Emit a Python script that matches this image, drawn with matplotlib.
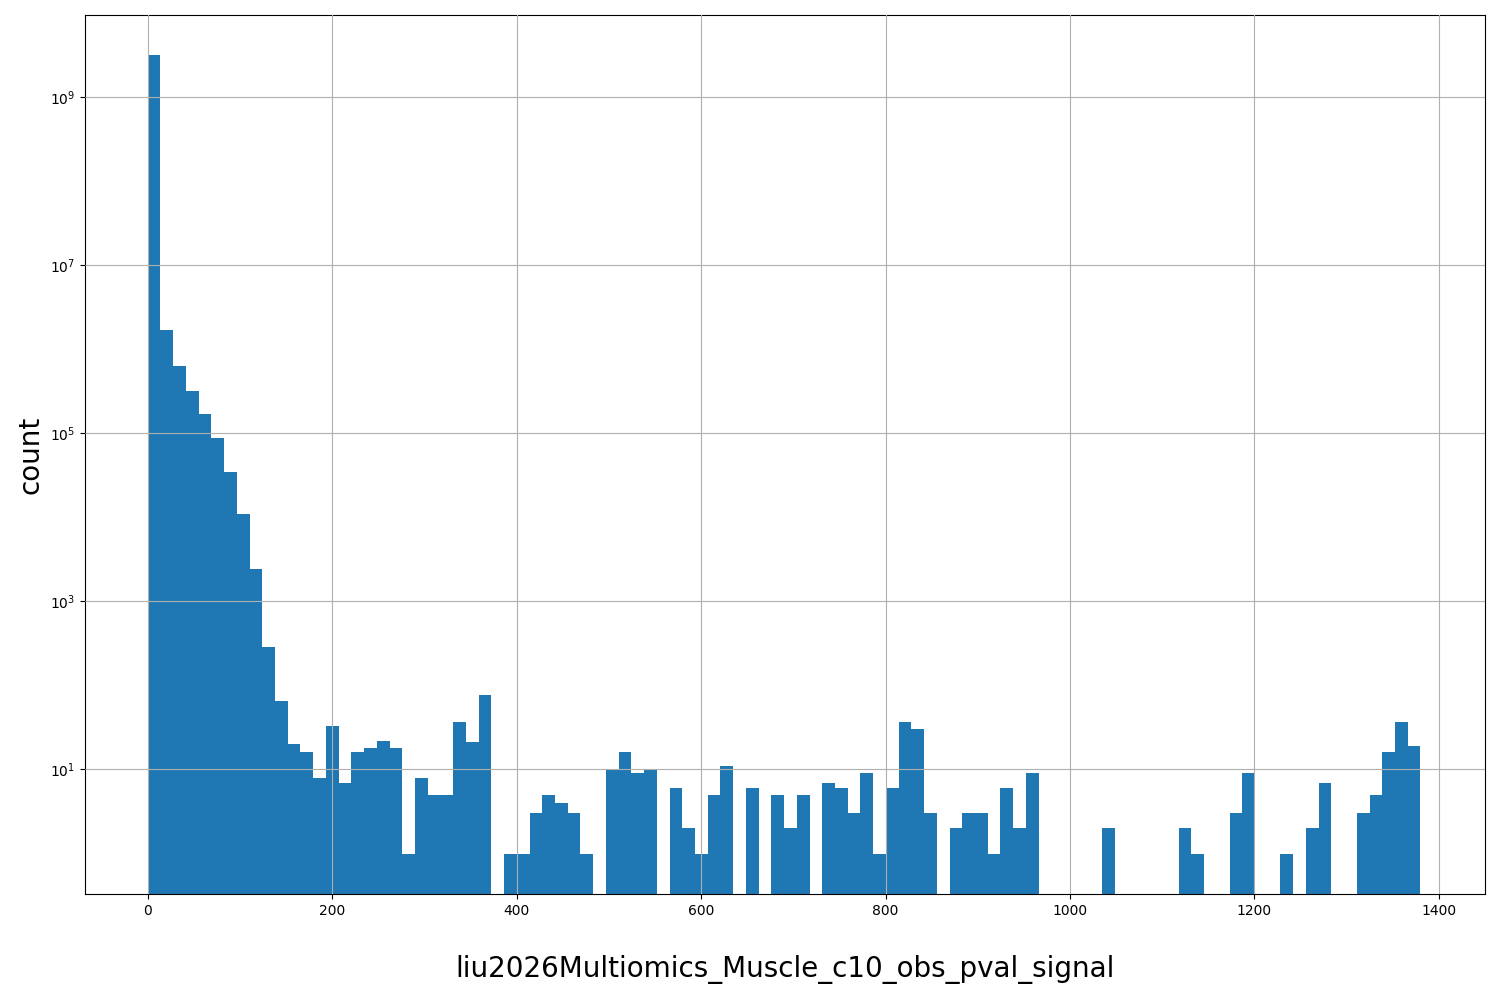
import numpy as np
import matplotlib
matplotlib.use("Agg")
import matplotlib.pyplot as plt

counts = [3.2e9, 1.7e6, 6.3e5, 3.2e5, 1.7e5, 8.7e4, 3.5e4, 1.1e4, 2460, 288,
          65, 20, 16, 8, 33, 7, 16, 18, 22, 18,
          1, 8, 5, 5, 37, 21, 76, 0, 1, 1,
          3, 5, 4, 3, 1, 0, 10, 16, 9, 10,
          0, 6, 2, 1, 5, 11, 0, 6, 0, 5,
          2, 5, 0, 7, 6, 3, 9, 1, 6, 37,
          30, 3, 0, 2, 3, 3, 1, 6, 2, 9,
          0, 0, 0, 0, 0, 2, 0, 0, 0, 0,
          0, 2, 1, 0, 0, 3, 9, 0, 0, 1,
          0, 2, 7, 0, 0, 3, 5, 16, 37, 19]
x_min, x_max = 0, 1380

edges = np.linspace(x_min, x_max, len(counts) + 1)
centers = (edges[:-1] + edges[1:]) / 2

fig = plt.figure(figsize=(15, 10), dpi=100)
ax = fig.add_axes([0.0567, 0.106, 0.9333, 0.879])
ax.hist(centers, bins=edges, weights=counts, color="#1f77b4", log=True)
ax.set_yscale("log")
ax.set_xlim(-68, 1450)
ax.set_ylim(0.33, 9.5e9)
ax.grid(True)
ax.set_axisbelow(False)
ax.set_xlabel("liu2026Multiomics_Muscle_c10_obs_pval_signal", fontsize=20, labelpad=27)
ax.set_ylabel("count", fontsize=20)
fig.savefig("out.png")
